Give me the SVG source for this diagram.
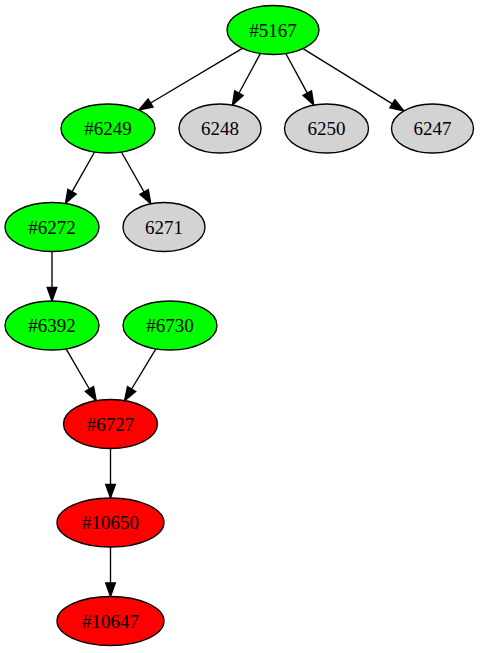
<svg xmlns="http://www.w3.org/2000/svg" width="480" height="653" viewBox="0 0 480 653">
  <style>
    .node ellipse { stroke: #000; stroke-width: 1.36; }
    .green { fill: #00ff00; }
    .red { fill: #ff0000; }
    .gray { fill: #d3d3d3; }
    .node text { font-family: "Liberation Serif", "Times New Roman", serif; font-size: 19px; fill: #000; text-anchor: middle; }
    .edges path { fill: none; stroke: #000; stroke-width: 1.36; marker-end: url(#arrow); }
  </style>
  <defs>
    <marker id="arrow" markerUnits="userSpaceOnUse" markerWidth="16" markerHeight="12" refX="0" refY="0" viewBox="0 -6 16 12" orient="auto" overflow="visible">
      <path d="M0,-4.8 L13.6,0 L0,4.8 z" fill="#000" stroke="#000" stroke-width="1.36"/>
    </marker>
  </defs>
  <rect width="480" height="653" fill="#fff"/>

  <g class="edges">
    <path d="M242.4,48.3 L150.6,103"/>
    <path d="M260.3,53.6 L238.9,93.2"/>
    <path d="M285.8,53.5 L307.3,93.1"/>
    <path d="M303,48.6 L392.4,103.8"/>
    <path d="M94.6,152 L72.1,191.7"/>
    <path d="M121.4,152 L144.1,192"/>
    <path d="M52,251.5 L52,287.4"/>
    <path d="M66.1,348.9 L89.4,389"/>
    <path d="M155.9,348.9 L131.6,389"/>
    <path d="M110.5,448.5 L110.5,484.4"/>
    <path d="M110.5,547 L110.5,582.9"/>
  </g>

  <g id="n5167" class="node"><ellipse class="green" cx="273" cy="30" rx="46" ry="24.5"/><text x="273" y="36.5">#5167</text></g>
  <g id="n6249" class="node"><ellipse class="green" cx="108" cy="128.5" rx="47" ry="24.5"/><text x="108" y="135">#6249</text></g>
  <g id="n6248" class="node"><ellipse class="gray" cx="220" cy="128.5" rx="41" ry="24.5"/><text x="220" y="135">6248</text></g>
  <g id="n6250" class="node"><ellipse class="gray" cx="326.5" cy="128.5" rx="42" ry="24.5"/><text x="326.5" y="135">6250</text></g>
  <g id="n6247" class="node"><ellipse class="gray" cx="432.5" cy="128.5" rx="41" ry="24.5"/><text x="432.5" y="135">6247</text></g>
  <g id="n6272" class="node"><ellipse class="green" cx="52" cy="227" rx="47" ry="24.5"/><text x="52" y="233.5">#6272</text></g>
  <g id="n6271" class="node"><ellipse class="gray" cx="164" cy="227" rx="41" ry="24.5"/><text x="164" y="233.5">6271</text></g>
  <g id="n6392" class="node"><ellipse class="green" cx="52" cy="325.5" rx="47" ry="24.5"/><text x="52" y="332">#6392</text></g>
  <g id="n6730" class="node"><ellipse class="green" cx="170" cy="325.5" rx="47" ry="24.5"/><text x="170" y="332">#6730</text></g>
  <g id="n6727" class="node"><ellipse class="red" cx="110.5" cy="424" rx="47" ry="24.5"/><text x="110.5" y="430.5">#6727</text></g>
  <g id="n10650" class="node"><ellipse class="red" cx="110.5" cy="522.5" rx="53.5" ry="24.5"/><text x="110.5" y="529">#10650</text></g>
  <g id="n10647" class="node"><ellipse class="red" cx="110.5" cy="621" rx="53.5" ry="24.5"/><text x="110.5" y="627.5">#10647</text></g>
</svg>
